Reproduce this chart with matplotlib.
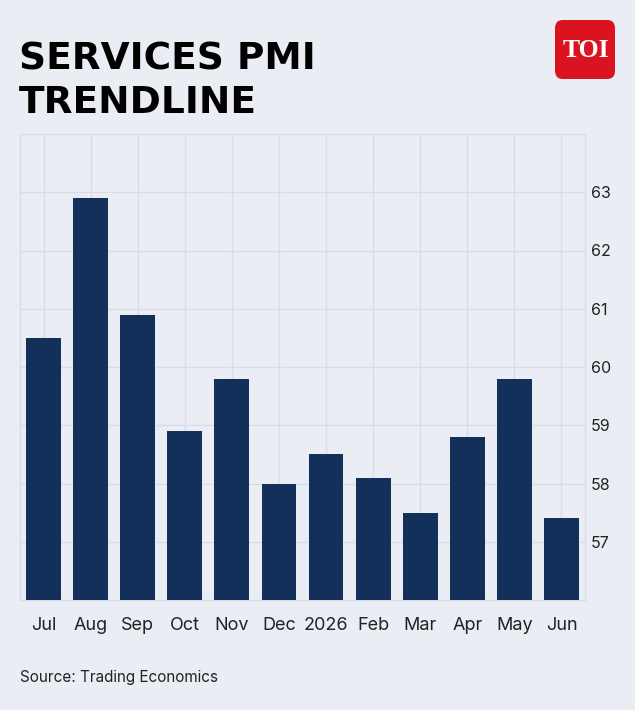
import matplotlib
matplotlib.use("Agg")
import matplotlib.pyplot as plt
from matplotlib.patches import FancyBboxPatch

months = ["Jul", "Aug", "Sep", "Oct", "Nov", "Dec", "2026", "Feb", "Mar", "Apr", "May", "Jun"]
pmi = [60.5, 62.9, 60.9, 58.9, 59.8, 58.0, 58.5, 58.1, 57.5, 58.8, 59.8, 57.4]
yticks = [57, 58, 59, 60, 61, 62, 63]

BG = "#eaedf4"
BAR = "#13305a"
GRID = "#d9dde6"

W, H = 635, 710
fig = plt.figure(figsize=(W / 100, H / 100), dpi=100, facecolor=BG)
ax = fig.add_axes([20 / W, 1 - 600 / H, 565 / W, 466 / H], facecolor=BG)

x = list(range(len(months)))
ax.bar(x, pmi, width=0.74, color=BAR, zorder=3)
ax.set_xlim(-0.5, len(months) - 0.5)
ax.set_ylim(56, 64)
ax.set_xticks(x)
ax.set_xticklabels(months, fontsize=13, color="#222222", family="Inter")
ax.set_yticks(yticks)
ax.set_yticklabels([str(v) for v in yticks], fontsize=11.5, color="#222222", family="Inter")
ax.yaxis.tick_right()
ax.tick_params(axis="both", length=0)
ax.tick_params(axis="y", pad=4)
ax.tick_params(axis="x", pad=12)
ax.grid(True, color=GRID, linewidth=1, zorder=0)
for s in ax.spines.values():
    s.set_color(GRID)
    s.set_linewidth(1)

fig.text(19 / W, 1 - 69 / H, "SERVICES PMI", fontsize=27, fontweight="bold",
         family="DejaVu Sans", color="black", va="baseline")
fig.text(19 / W, 1 - 113 / H, "TRENDLINE", fontsize=27, fontweight="bold",
         family="DejaVu Sans", color="black", va="baseline")
fig.text(20 / W, 1 - 682 / H, "Source: Trading Economics", fontsize=11, family="Inter",
         color="#222222")

logo = FancyBboxPatch((555 / W, 1 - 79 / H), 60 / W, 59 / H,
                      boxstyle="round,pad=0,rounding_size=0.012",
                      transform=fig.transFigure, facecolor="#d9131f", edgecolor="none")
fig.patches.append(logo)
fig.text(586 / W, 1 - 57 / H, "TOI", fontsize=18.5, fontweight="bold", family="Liberation Serif",
         color="white", ha="center", va="baseline")

fig.savefig("out.png", dpi=100, facecolor=BG)
